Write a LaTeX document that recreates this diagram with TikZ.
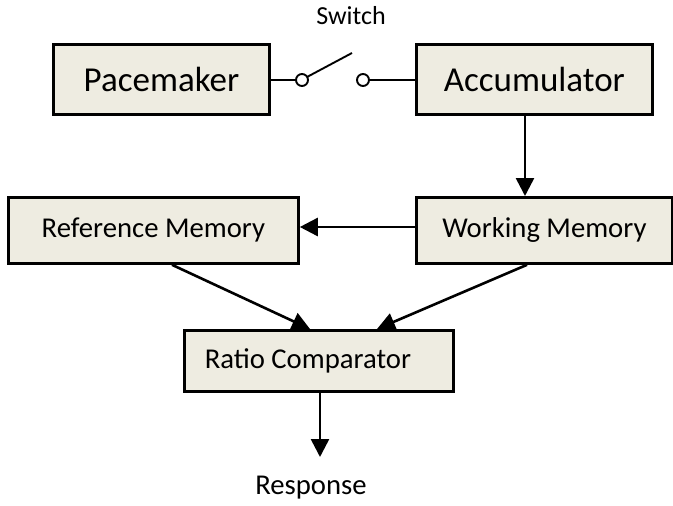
\documentclass[tikz,border=0pt]{standalone}
\usepackage{fontspec}
\setmainfont{Carlito}
\usetikzlibrary{arrows.meta}
\definecolor{boxfill}{HTML}{EEECE1}
\tikzset{
  block/.style={draw=black, line width=2.8pt, fill=boxfill, inner sep=0pt, anchor=north west},
  bigtext/.style={font=\fontsize{35}{40}\selectfont},
  midtext/.style={font=\fontsize{28.7}{33}\selectfont},
  link/.style={draw=black, line width=2.6pt},
  flow/.style={link, -{Triangle[width=18pt,length=18pt]}},
  contact/.style={draw=black, line width=1.9pt},
}
\begin{document}
\begin{tikzpicture}[x=1pt, y=-1pt]
\useasboundingbox (0,0) rectangle (673,506);
% upper row
\node[block, bigtext, minimum width=216pt, minimum height=70pt] (pace) at (52,43) {Pacemaker};
\node[block, bigtext, minimum width=236pt, minimum height=70pt] (acc) at (415,43) {Accumulator};
% middle row
\node[block, midtext, minimum width=290pt, minimum height=66pt] (ref) at (7,196) {Reference Memory};
\node[block, midtext, minimum width=256pt, minimum height=66pt] (work) at (415,196) {Working Memory};
% comparator and output
\node[block, midtext, minimum width=269pt, minimum height=61pt] (ratio) at (183,329) {\hspace*{-22pt}Ratio Comparator};
\node[midtext] (resp) at (311,488) {Response};
\node[font=\fontsize{26}{30}\selectfont] (swlabel) at (351,16) {Switch};
% switch contacts
\coordinate (swa) at (302,80);
\coordinate (swb) at (363,80);
\coordinate (lever) at (352,53);
\draw[contact, line width=2.4pt] (pace.east |- swa) -- ([xshift=-6pt]swa);
\draw[contact] (swa) circle (6pt);
\draw[contact] ([shift={(5,-3)}]swa) -- (lever);
\draw[contact] (swb) circle (6pt);
\draw[contact, line width=1.5pt] ([xshift=6pt]swb) -- (acc.west |- swb);
% connectors
\coordinate (respin) at (320,457);
\draw[flow] (acc.south -| 525,0) -- (work.north -| 525,0);
\draw[flow] (work.west |- 0,227) -- (ref.east |- 0,227);
\draw[flow] (ref.south -| 172,0) -- (ratio.north -| 310,0);
\draw[flow] (work.south -| 527,0) -- (ratio.north -| 377,0);
\draw[flow] (ratio.south -| respin) -- (respin);
\end{tikzpicture}
\end{document}
